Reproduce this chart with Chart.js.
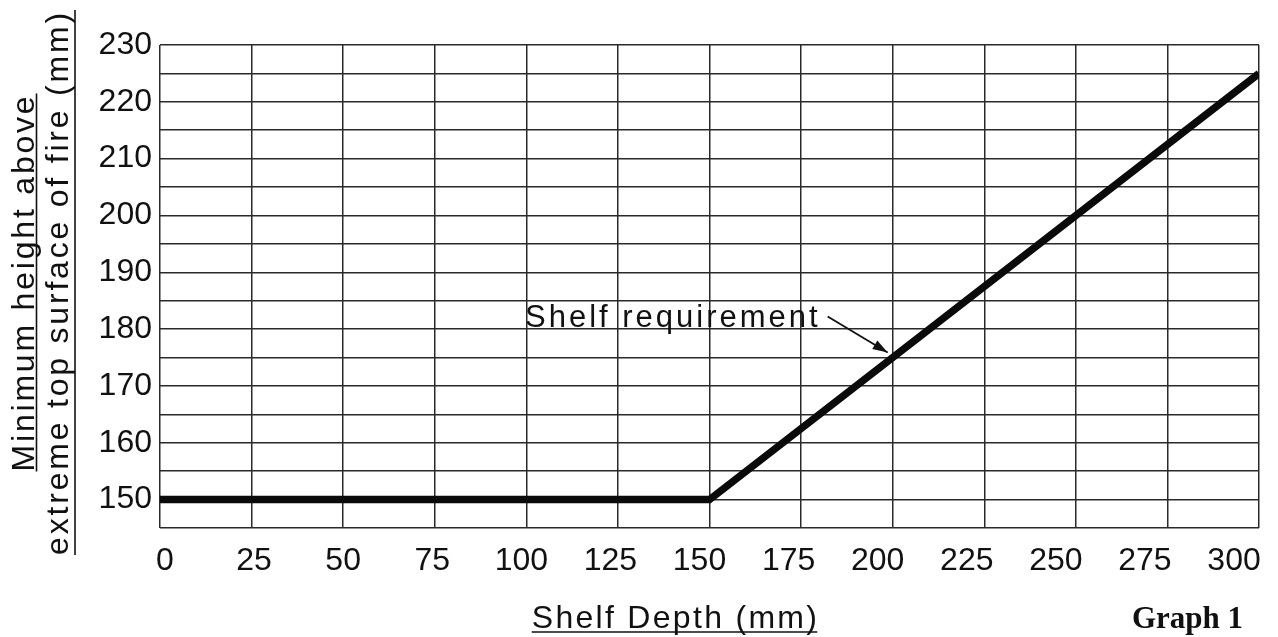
<!DOCTYPE html>
<html>
<head>
<meta charset="utf-8">
<script src="https://cdn.jsdelivr.net/npm/chart.js@4.4.0/dist/chart.umd.min.js"></script>
<style>
  html, body { margin: 0; padding: 0; background: #ffffff; }
  canvas { display: block; }
</style>
</head>
<body>
<canvas id="c" width="1278" height="637"></canvas>
<script>
// ---- data ----
const shelfDepth = [0, 150, 300];          // mm
const minHeight  = [150, 150, 225];        // mm
const xTickLabels = [0, 25, 50, 75, 100, 125, 150, 175, 200, 225, 250, 275, 300];
const yTickLabels = [150, 160, 170, 180, 190, 200, 210, 220, 230];
const seriesName = 'Shelf requirement';
const xTitle = 'Shelf Depth (mm)';
const yTitleLines = ['Minimum height above', 'extreme top surface of fire (mm)'];
const captionText = 'Graph 1';
const annotationPoint = { x: 200, y: 175 };

const points = shelfDepth.map((x, i) => ({ x: x, y: minHeight[i] }));

const FONT = '"Liberation Sans", Arial, sans-serif';
const INK = '#111111';

const decorPlugin = {
  id: 'decor',
  afterDatasetsDraw(chart) {
    const ctx = chart.ctx;
    const xs = chart.scales.x, ys = chart.scales.y;
    const ca = chart.chartArea;
    // annotation with arrow
    const ax = xs.getPixelForValue(annotationPoint.x);
    const ay = ys.getPixelForValue(annotationPoint.y);
    ctx.save();
    ctx.fillStyle = INK;
    ctx.strokeStyle = INK;
    ctx.font = '31px ' + FONT;
    ctx.letterSpacing = '3px';
    ctx.textAlign = 'right';
    ctx.textBaseline = 'alphabetic';
    ctx.fillText(seriesName, ax - 72, ay - 31);
    const sx = ax - 65, sy = ay - 41, tx = ax - 5, ty = ay - 5;
    ctx.lineWidth = 1.8;
    ctx.beginPath(); ctx.moveTo(sx, sy); ctx.lineTo(tx, ty); ctx.stroke();
    const ang = Math.atan2(ty - sy, tx - sx);
    const L = 15, W = 5;
    ctx.beginPath();
    ctx.moveTo(tx, ty);
    ctx.lineTo(tx - L * Math.cos(ang) + W * Math.sin(ang), ty - L * Math.sin(ang) - W * Math.cos(ang));
    ctx.lineTo(tx - L * Math.cos(ang) - W * Math.sin(ang), ty - L * Math.sin(ang) + W * Math.cos(ang));
    ctx.closePath();
    ctx.fill();
    ctx.restore();
  },
  afterDraw(chart) {
    const ctx = chart.ctx;
    const ca = chart.chartArea;
    ctx.save();
    ctx.fillStyle = INK;
    ctx.strokeStyle = INK;
    // x axis title, underlined
    ctx.font = '32px ' + FONT;
    ctx.letterSpacing = '2.3px';
    ctx.textAlign = 'left';
    ctx.textBaseline = 'alphabetic';
    const xtw = ctx.measureText(xTitle).width;
    const xcx = (ca.left + ca.right) / 2 - 34;
    const xby = ca.bottom + 100;
    ctx.fillText(xTitle, xcx - xtw / 2, xby);
    ctx.lineWidth = 1.6;
    ctx.beginPath(); ctx.moveTo(xcx - xtw / 2, xby + 4); ctx.lineTo(xcx + xtw / 2 - 2, xby + 4); ctx.stroke();

    // y axis title, two lines, rotated, underlined
    ctx.letterSpacing = '2.8px';
    const cy = (ca.top + ca.bottom) / 2 - 4;
    const baseXs = [34, 68];
    const ulXs = [36.5, 75];
    yTitleLines.forEach((t, i) => {
      const w = ctx.measureText(t).width;
      ctx.save();
      ctx.translate(baseXs[i], cy);
      ctx.rotate(-Math.PI / 2);
      ctx.fillText(t, -w / 2, 0);
      ctx.restore();
      ctx.beginPath();
      ctx.moveTo(ulXs[i], cy + w / 2);
      ctx.lineTo(ulXs[i], cy - w / 2);
      ctx.stroke();
    });

    // caption
    ctx.letterSpacing = '0px';
    ctx.font = 'bold 31px "Liberation Serif", "Times New Roman", serif';
    ctx.textAlign = 'left';
    ctx.fillText(captionText, 1132, ca.bottom + 100);
    ctx.restore();
  }
};

new Chart(document.getElementById('c'), {
  type: 'line',
  data: {
    datasets: [{
      label: seriesName,
      data: points,
      borderColor: '#0a0a0a',
      borderWidth: 7.5,
      pointRadius: 0,
      tension: 0,
      fill: false,
      borderCapStyle: 'butt',
      borderJoinStyle: 'miter',
      xAxisID: 'x',
      yAxisID: 'y'
    }]
  },
  options: {
    responsive: false,
    animation: false,
    devicePixelRatio: 1,
    layout: { padding: { left: 0, right: 19, top: 45, bottom: 0 } },
    plugins: { legend: { display: false }, tooltip: { enabled: false }, title: { display: false } },
    scales: {
      x: {
        type: 'linear',
        position: 'top',
        min: 0, max: 300,
        ticks: { stepSize: 25, display: false },
        grid: { color: '#2a2a2a', lineWidth: 1.5, drawTicks: false },
        border: { display: false },
        afterFit(scale) { scale.height = 0; }
      },
      x2: {
        type: 'linear',
        position: 'bottom',
        min: -1.4, max: 307,
        ticks: {
          stepSize: 25,
          includeBounds: false,
          autoSkip: false,
          maxRotation: 0,
          padding: 14,
          color: INK,
          font: { family: FONT, size: 32 },
          callback: (v) => xTickLabels.includes(v) ? String(v) : ''
        },
        grid: { display: false, drawTicks: false },
        border: { display: false },
        afterFit(scale) { scale.height = 109; }
      },
      y: {
        type: 'linear',
        position: 'left',
        min: 145, max: 230,
        ticks: {
          stepSize: 5,
          autoSkip: false,
          padding: 8,
          color: INK,
          font: { family: FONT, size: 32 },
          callback: (v) => yTickLabels.includes(v) ? String(v) : ''
        },
        grid: { color: '#2a2a2a', lineWidth: 1.5, drawTicks: false },
        border: { display: false },
        afterFit(scale) { scale.width = 160; }
      }
    }
  },
  plugins: [decorPlugin]
});
</script>
</body>
</html>
